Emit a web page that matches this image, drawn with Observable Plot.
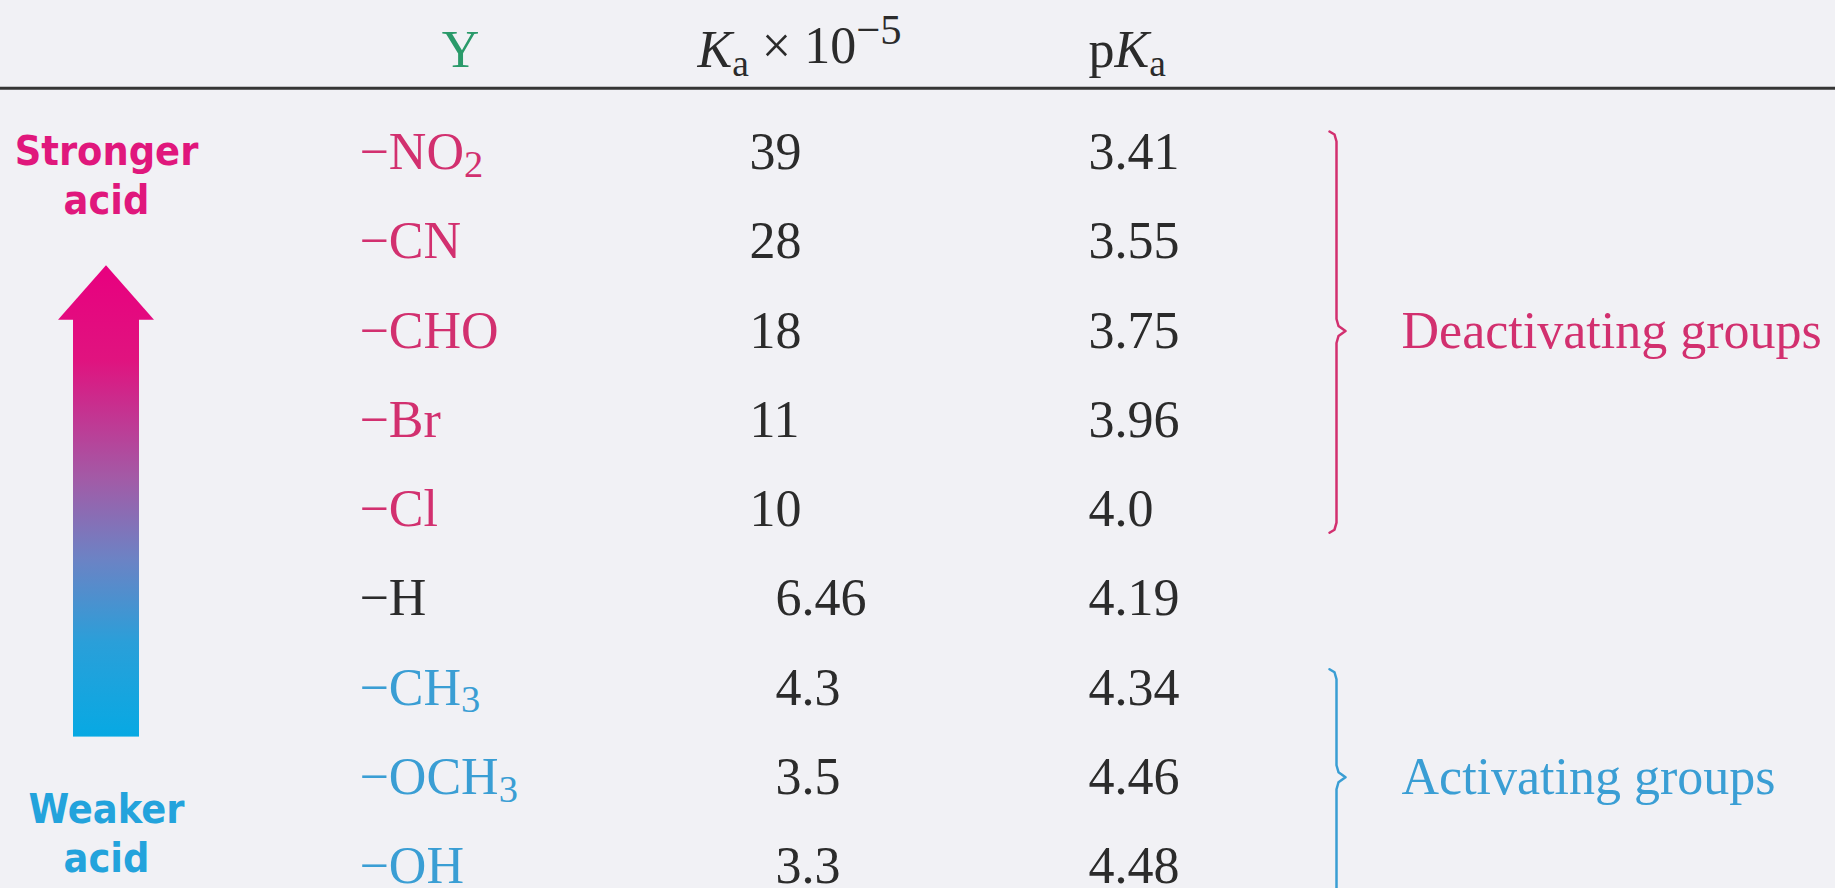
<!DOCTYPE html>
<html>
<head>
<meta charset="utf-8">
<script src="https://cdn.jsdelivr.net/npm/d3@7"></script>
<script src="https://cdn.jsdelivr.net/npm/@observablehq/plot@0.6"></script>
<style>
  html, body { margin: 0; padding: 0; background: #f1f1f5; overflow: hidden; }
  #chart svg { display: block; }
</style>
</head>
<body>
<div id="chart"></div>
<script>
// ---------------- data ----------------
const substituents = ["−NO2", "−CN", "−CHO", "−Br", "−Cl", "−H", "−CH3", "−OCH3", "−OH"];
const kaValues = [39, 28, 18, 11, 10, 6.46, 4.3, 3.5, 3.3];           // Ka × 10^-5
const pkaLabels = ["3.41", "3.55", "3.75", "3.96", "4.0", "4.19", "4.34", "4.46", "4.48"];
const rowGroups = ["deactivating", "deactivating", "deactivating", "deactivating", "deactivating",
                   "reference", "activating", "activating", "activating"];
const headerLabels = ["Y", "Ka × 10−5", "pKa"];
const groupNames = ["deactivating", "activating"];
const groupLabels = ["Deactivating groups", "Activating groups"];
const groupFirstRow = [0, 6];
const groupLastRow = [4, 8];
const strengthLabels = ["Stronger\nacid", "Weaker\nacid"];

// ---------------- layout & style (not data) ----------------
const W = 1835, H = 888;
const ROW0 = 152, ROWSTEP = 89.25;               // pixel centre of row 0 and row pitch
const px = 1 / ROWSTEP;                          // one pixel in row units
const L = {
  arrowX: 106, colY: 359, colKa: 749, colPka: 1088, braceX: 1336, groupX: 1401,
  headerYcenter: 460, headerKa: 697,
  headerRow: -1.15, ruleRow: -0.72,
  strongerRow: 0.24, weakerRow: 7.61,
  arrowTip: 1.27, arrowBase: 1.88, arrowTail: 6.55, headHalf: 48, shaftHalf: 33
};
const FS = 52;
const SERIF = "Liberation Serif";
const SANS = "DejaVu Sans Condensed";
const colors = {
  deactivating: "#d2306f", activating: "#3a9ed4", reference: "#2b2b2b",
  ink: "#2b2b2b", header: "#2a9a6a", strong: "#e0177c", weak: "#23a3dc"
};
const braceExtra = [{top: -0.235, bottom: 0.26}, {top: -0.21, bottom: 0.6}];

// ---------------- tables built from the arrays ----------------
const table = substituents.map((label, i) => ({
  i, label, ka: kaValues[i], pka: pkaLabels[i], group: rowGroups[i]
}));
const groups = groupNames.map((g, k) => ({
  group: g, label: groupLabels[k],
  from: groupFirstRow[k] + braceExtra[k].top,
  to: groupLastRow[k] + braceExtra[k].bottom,
  tip: (groupFirstRow[k] + groupLastRow[k]) / 2
}));
function bracePoints(g) {
  const x = L.braceX;
  return [
    [x - 7, g.from], [x - 2, g.from + 3 * px], [x, g.from + 10 * px],
    [x, g.tip - 12 * px], [x + 2, g.tip - 5 * px], [x + 9, g.tip],
    [x + 2, g.tip + 5 * px], [x, g.tip + 12 * px],
    [x, g.to - 10 * px], [x - 2, g.to - 3 * px], [x - 7, g.to]
  ].map(([xx, yy]) => ({x: xx, y: yy, group: g.group}));
}
const braceData = groups.flatMap(bracePoints);
const strength = strengthLabels.map((t, k) => ({
  text: t, y: k === 0 ? L.strongerRow : L.weakerRow, color: k === 0 ? colors.strong : colors.weak
}));
const shaft = [{x1: L.arrowX - L.shaftHalf, x2: L.arrowX + L.shaftHalf, y1: L.arrowBase - 1 * px, y2: L.arrowTail}];
const head = [
  {x: L.arrowX - L.headHalf, y1: L.arrowBase, y2: L.arrowBase},
  {x: L.arrowX, y1: L.arrowBase, y2: L.arrowTip},
  {x: L.arrowX + L.headHalf, y1: L.arrowBase, y2: L.arrowBase}
];

const yDomain = [-ROW0 / ROWSTEP, (H - ROW0) / ROWSTEP];

const plot = Plot.plot({
  width: W, height: H,
  margin: 0,
  x: {domain: [0, W], range: [0, W], axis: null},
  y: {domain: yDomain, range: [0, H], axis: null},
  color: {type: "identity"},
  style: {background: "#f1f1f5", overflow: "hidden"},
  marks: [
    Plot.ruleY([L.ruleRow], {stroke: "#353535", strokeWidth: 3}),
    // header
    Plot.text([headerLabels[0]], {x: () => L.headerYcenter, y: () => L.headerRow, text: d => d,
      fill: colors.header, fontFamily: SERIF, fontSize: FS, textAnchor: "middle"}),
    Plot.text(headerLabels.slice(1), {x: (d, i) => i === 0 ? L.headerKa : L.colPka, y: () => L.headerRow, text: d => d,
      fill: colors.ink, fontFamily: SERIF, fontSize: FS, textAnchor: "start"}),
    // rows
    Plot.text(table, {x: () => L.colY, y: "i", text: "label", fill: d => colors[d.group],
      fontFamily: SERIF, fontSize: FS, textAnchor: "start"}),
    Plot.text(table, {x: () => L.colKa, y: "i", text: d => (d.ka < 10 ? "\u2007" : "") + d.ka,
      fill: colors.ink, fontFamily: SERIF, fontSize: FS, textAnchor: "start"}),
    Plot.text(table, {x: () => L.colPka, y: "i", text: "pka",
      fill: colors.ink, fontFamily: SERIF, fontSize: FS, textAnchor: "start"}),
    // braces and group labels
    Plot.line(braceData, {x: "x", y: "y", z: "group", stroke: d => colors[d.group], strokeWidth: 2.5}),
    Plot.text(groups, {x: () => L.groupX, y: "tip", text: "label", fill: d => colors[d.group],
      fontFamily: SERIF, fontSize: FS, textAnchor: "start"}),
    // gradient arrow
    Plot.rect(shaft, {x1: "x1", x2: "x2", y1: "y1", y2: "y2", fill: "url(#acidGrad)"}),
    Plot.areaY(head, {x: "x", y1: "y1", y2: "y2", fill: "url(#acidGrad)"}),
    Plot.text(strength, {x: () => L.arrowX, y: "y", text: "text", fill: "color",
      fontFamily: SANS, fontWeight: "bold", fontSize: 41, lineHeight: 1.2, textAnchor: "middle"})
  ]
});

// gradient definition in user space, positioned with the y scale
const NS = "http://www.w3.org/2000/svg";
const ys = plot.scale("y");
const defs = document.createElementNS(NS, "defs");
const grad = document.createElementNS(NS, "linearGradient");
grad.setAttribute("id", "acidGrad");
grad.setAttribute("gradientUnits", "userSpaceOnUse");
grad.setAttribute("x1", 0); grad.setAttribute("x2", 0);
grad.setAttribute("y1", ys.apply(L.arrowTip));
grad.setAttribute("y2", ys.apply(L.arrowTail));
[[0, "#e8007f"], [0.2, "#e0137f"], [0.45, "#a35aa6"], [0.62, "#6d82c4"], [0.8, "#2a9fd9"], [1, "#07a9e3"]]
  .forEach(([o, c]) => {
    const s = document.createElementNS(NS, "stop");
    s.setAttribute("offset", o); s.setAttribute("stop-color", c);
    grad.appendChild(s);
  });
defs.appendChild(grad);
plot.insertBefore(defs, plot.firstChild);

// typographic post-processing: subscripts, italics, superscripts (still real text)
function tspan(parent, text, attrs = {}) {
  const t = document.createElementNS(NS, "tspan");
  for (const [k, v] of Object.entries(attrs)) t.setAttribute(k, v);
  t.textContent = text;
  parent.appendChild(t);
}
const subSet = new Set(substituents);
plot.querySelectorAll("text").forEach(el => {
  if (el.querySelector("tspan")) return;
  const s = el.textContent;
  if (subSet.has(s)) {
    const m = s.match(/^(.*?)(\d*)$/);
    el.textContent = "";
    tspan(el, m[1]);
    if (m[2]) tspan(el, m[2], {dy: "0.2em", "font-size": "74%"});
  } else if (s === headerLabels[1]) {
    el.textContent = "";
    tspan(el, "K", {"font-style": "italic"});
    tspan(el, "a", {dy: "0.25em", "font-size": "72%"});
    tspan(el, " × 10", {dy: "-0.25em"});
    tspan(el, "−5", {dy: "-0.45em", "font-size": "82%"});
  } else if (s === headerLabels[2]) {
    el.textContent = "";
    tspan(el, "p");
    tspan(el, "K", {"font-style": "italic"});
    tspan(el, "a", {dy: "0.25em", "font-size": "72%"});
  }
});

document.getElementById("chart").appendChild(plot);
</script>
</body>
</html>
